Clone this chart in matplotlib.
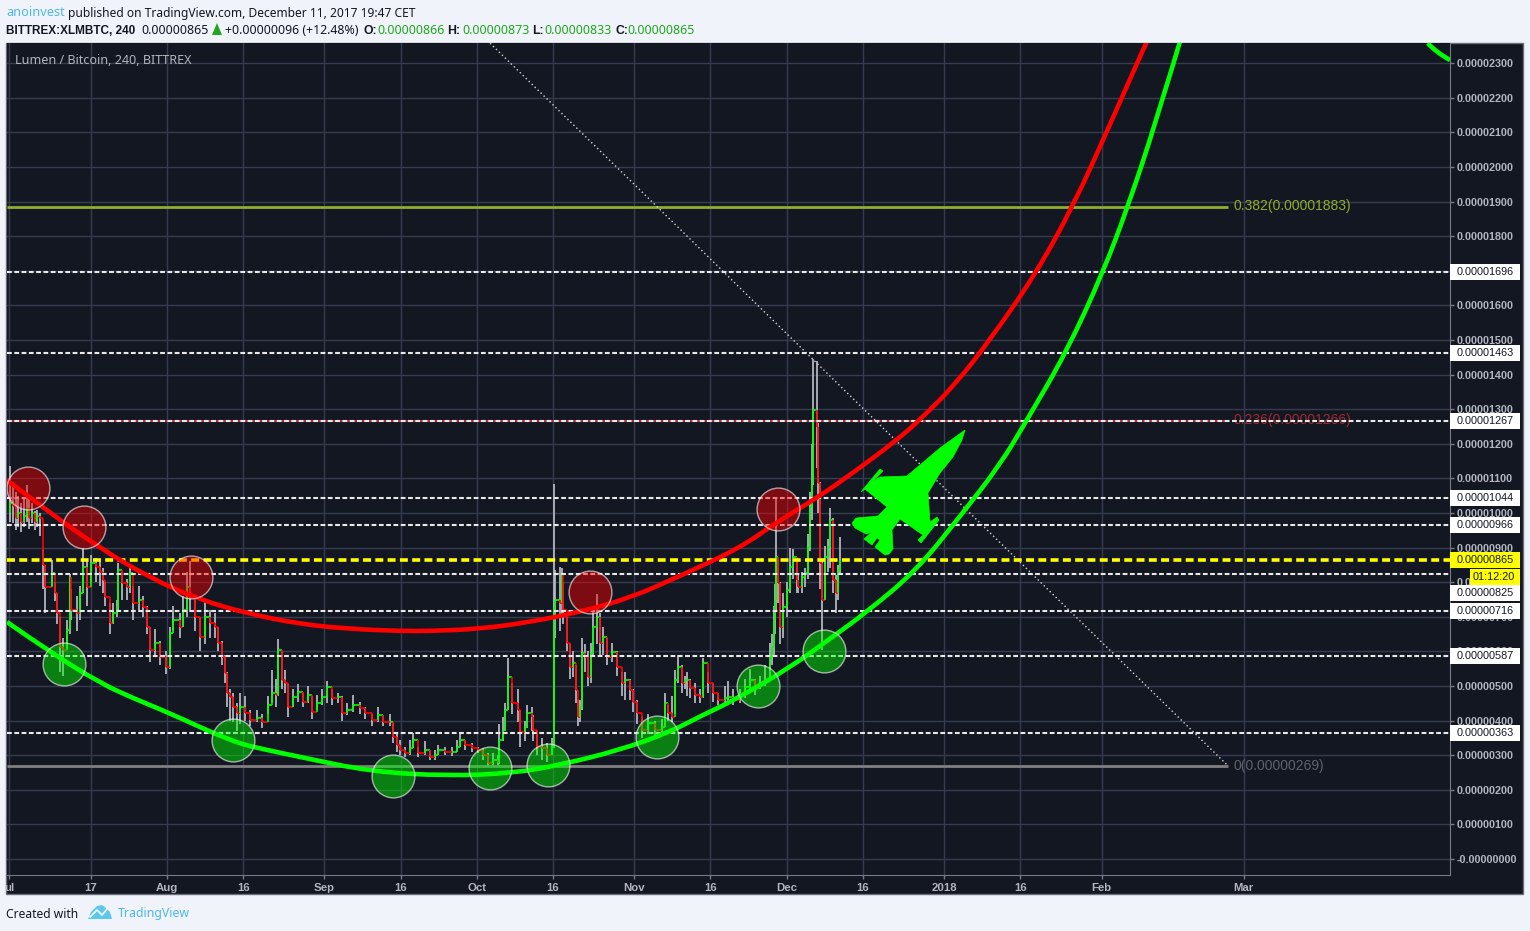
import numpy as np
import matplotlib
matplotlib.use('Agg')
import matplotlib.pyplot as plt
from matplotlib.patches import Polygon, Rectangle, PathPatch
from matplotlib.path import Path

W, H = 1530, 931

# x is days since 1 Jul 2017, prices are in 1e-8 BTC
candle_days = [0.1, 0.6, 1.2, 1.7, 2.3, 2.9, 3.4, 3.9, 4.4, 5.0, 5.5, 6.0, 6.6, 7.0, 8.3, 9.0, 9.3, 9.9, 10.6, 11.3,
               11.9, 12.2, 13.2, 13.9, 14.5, 15.2, 16.1, 17.1, 17.8, 18.5, 18.8, 19.8, 20.4, 21.1, 21.4, 22.1, 23.1, 23.7, 24.4, 25.4,
               26.3, 27.0, 27.7, 28.6, 29.6, 30.9, 31.6, 32.2, 33.6, 34.2, 34.9, 35.5, 36.5, 37.5, 38.5, 39.5, 40.4, 41.0, 41.8, 42.4,
               42.8, 43.4, 44.0, 44.8, 45.4, 46.4, 47.3, 48.7, 49.7, 50.9, 51.7, 52.5, 52.9, 53.6, 54.2, 54.8, 55.8, 56.8, 57.8, 58.8,
               59.5, 60.5, 61.5, 62.5, 63.5, 64.7, 65.4, 66.4, 67.6, 69.0, 70.0, 71.4, 72.5, 73.5, 74.9, 75.5, 76.3, 76.9, 77.9, 78.9,
               79.4, 80.4, 81.8, 82.8, 83.8, 84.4, 85.7, 87.1, 88.1, 88.7, 89.7, 91.0, 92.2, 93.2, 94.2, 95.2, 96.2, 96.4, 97.2, 97.5,
               98.2, 98.9, 100.1, 100.5, 101.5, 101.9, 102.9, 103.1, 103.9, 104.9, 105.9, 106.8, 107.1, 107.4, 108.4, 108.8, 109.0, 109.7, 110.3, 110.9,
               111.5, 111.9, 112.3, 112.7, 113.3, 113.9, 114.5, 114.9, 115.7, 116.2, 116.8, 117.6, 118.6, 119.6, 120.6, 121.2, 122.1, 122.7, 123.5, 124.5,
               125.7, 127.1, 128.4, 129.0, 129.6, 130.4, 131.0, 131.6, 132.4, 133.0, 133.4, 134.0, 135.0, 135.9, 136.5, 137.5, 138.5, 139.5, 140.8, 141.4,
               142.4, 143.8, 144.8, 145.8, 146.7, 147.7, 148.7, 149.7, 150.1, 150.5, 150.7, 150.9, 151.3, 151.7, 152.3, 153.0, 153.6, 154.2, 155.0, 155.2,
               156.0, 156.6, 157.2, 157.6, 158.0, 158.2, 159.0, 159.2, 159.6, 159.9, 160.5, 161.1, 161.5, 162.1, 162.7, 163.1, 163.5]
closes = [1030, 1020, 985, 1000, 975, 990, 1015, 985, 1000, 975, 990, 985, 850, 785, 827, 770, 710, 612, 604, 662,
          815, 720, 711, 769, 844, 786, 855, 844, 830, 806, 757, 682, 711, 728, 835, 798, 786, 827, 740, 749,
          728, 670, 604, 624, 584, 555, 653, 691, 670, 720, 786, 757, 699, 641, 699, 682, 670, 624, 584, 538,
          480, 468, 439, 422, 439, 422, 402, 408, 396, 445, 480, 474, 604, 517, 509, 439, 468, 483, 454, 474,
          425, 451, 468, 497, 465, 468, 422, 431, 445, 436, 422, 402, 416, 396, 396, 353, 329, 315, 306, 321,
          344, 306, 315, 295, 301, 315, 309, 309, 324, 344, 329, 321, 315, 301, 277, 286, 280, 344, 373, 431,
          526, 451, 431, 367, 381, 422, 410, 373, 324, 321, 301, 324, 720, 749, 740, 827, 720, 624, 555, 566,
          488, 410, 439, 595, 584, 526, 595, 670, 699, 624, 641, 584, 598, 555, 509, 517, 488, 454, 422, 373,
          393, 373, 381, 451, 422, 410, 517, 555, 509, 517, 517, 494, 474, 468, 566, 509, 480, 460, 465, 468,
          460, 474, 497, 517, 497, 509, 517, 584, 612, 691, 749, 873, 798, 670, 728, 777, 844, 873, 806, 786,
          815, 827, 902, 1017, 1087, 1298, 1248, 1087, 855, 749, 873, 902, 980, 806, 769, 835, 865]
highs = [1135, 1090, 1060, 1050, 1030, 1040, 1080, 1050, 1030, 1005, 1010, 1000, 895, 850, 865, 800, 770, 700, 640, 690,
         825, 780, 760, 790, 900, 860, 880, 870, 860, 840, 800, 740, 740, 750, 855, 830, 810, 840, 790, 790,
         760, 730, 670, 665, 630, 600, 670, 730, 710, 760, 830, 860, 750, 700, 745, 720, 710, 670, 630, 590,
         540, 490, 480, 450, 480, 470, 430, 430, 420, 470, 545, 520, 635, 600, 545, 505, 490, 505, 480, 500,
         470, 475, 490, 515, 490, 480, 470, 450, 475, 455, 440, 420, 440, 415, 420, 395, 365, 345, 325, 345,
         365, 325, 340, 315, 315, 330, 325, 325, 345, 365, 345, 335, 325, 320, 305, 305, 300, 390, 410, 450,
         580, 510, 490, 430, 400, 445, 440, 415, 370, 350, 335, 350, 1084, 835, 845, 840, 800, 700, 620, 600,
         560, 460, 460, 640, 620, 600, 625, 720, 765, 710, 670, 640, 625, 600, 540, 540, 520, 490, 460, 410,
         420, 400, 405, 480, 445, 470, 545, 590, 560, 530, 540, 520, 510, 490, 580, 540, 510, 480, 500, 515,
         490, 490, 520, 550, 520, 530, 560, 625, 650, 730, 795, 1040, 870, 800, 770, 800, 900, 895, 870, 820,
         830, 840, 940, 1060, 1200, 1445, 1440, 1260, 1090, 860, 905, 925, 1015, 985, 820, 850, 930]
lows = [975, 970, 950, 960, 945, 960, 975, 955, 970, 950, 960, 935, 780, 710, 790, 745, 680, 540, 530, 610,
        650, 690, 660, 690, 770, 730, 800, 800, 790, 770, 730, 650, 680, 700, 720, 750, 750, 770, 690, 720,
        700, 650, 570, 590, 560, 535, 550, 660, 640, 670, 700, 720, 660, 600, 620, 640, 640, 600, 560, 510,
        440, 400, 395, 370, 390, 400, 385, 395, 380, 420, 450, 440, 470, 490, 480, 410, 440, 455, 440, 450,
        405, 430, 445, 450, 445, 450, 400, 415, 425, 420, 405, 385, 395, 385, 385, 335, 310, 300, 295, 300,
        320, 295, 300, 285, 285, 300, 300, 298, 310, 325, 315, 310, 305, 285, 265, 270, 270, 275, 340, 370,
        430, 420, 395, 325, 340, 380, 370, 340, 300, 285, 280, 300, 320, 640, 660, 700, 680, 600, 520, 525,
        450, 385, 395, 430, 540, 500, 510, 590, 620, 590, 590, 560, 570, 530, 470, 460, 460, 425, 390, 350,
        360, 350, 360, 385, 400, 395, 420, 510, 480, 490, 470, 465, 450, 450, 465, 480, 455, 445, 445, 450,
        445, 450, 465, 490, 475, 490, 500, 520, 560, 590, 650, 720, 740, 620, 640, 700, 770, 810, 770, 770,
        770, 785, 810, 890, 980, 1080, 1130, 1000, 780, 604, 750, 830, 840, 770, 710, 750, 820]

red_curve_days = [-0.5, 8.0, 17.8, 27.7, 37.5, 47.3, 57.2, 67.0, 76.9, 82.8, 92.6, 102.5, 112.3, 122.1, 132.0, 143.8, 151.1, 158.9, 166.8, 174.7, 179.2, 186.1, 193.0, 201.9, 209.4, 216.6, 223.1, 224.5]
red_curve_prices = [1095, 1000, 899, 812, 749, 708, 679, 665, 659, 659, 665, 685, 714, 754, 818, 899, 974, 1043, 1124, 1211, 1269, 1370, 1500, 1688, 1887, 2121, 2338, 2381]
green_curve_days = [-0.5, 8.0, 17.8, 24.3, 31.0, 44.0, 50.7, 57.2, 71.0, 86.1, 99.1, 108.4, 120.2, 130.0, 135.9, 142.8, 153.6, 160.9, 168.8, 178.6, 187.1, 195.0, 200.3, 208.0, 215.3, 220.2, 225.5, 231.4]
green_curve_prices = [685, 598, 509, 465, 425, 338, 315, 295, 253, 240, 248, 272, 315, 367, 412, 460, 553, 630, 714, 835, 990, 1139, 1269, 1463, 1696, 1887, 2121, 2410]
next_curve_days = [279.2, 280.8, 283.6]
next_curve_prices = [2358, 2332, 2309]

red_circle_days = [3.6, 14.7, 35.7, 114.3, 151.3]
red_circle_prices = [1072, 959, 815, 772, 1011]
green_circle_days = [10.7, 44.0, 75.5, 94.6, 106.0, 127.5, 147.4, 160.3]
green_circle_prices = [564, 344, 240, 263, 272, 353, 500, 601]

level_prices = [1696, 1463, 1267, 1044, 966, 825, 716, 587, 363]
last_price = 865
fib_382 = 1883
fib_236 = 1266
fib_0 = 269
fib_end_day = 239.9
trend_days = [94.6, 239.9]
trend_prices = [2358, 269]

xtick_days = [0, 16, 31, 46, 62, 77, 92, 107, 123, 138, 153, 168, 184, 199, 215, 243]
xtick_labels = ['ul', '17', 'Aug', '16', 'Sep', '16', 'Oct', '16', 'Nov', '16', 'Dec', '16', '2018', '16', 'Feb', 'Mar']
ytick_prices = [0, 100, 200, 300, 400, 500, 600, 700, 800, 900, 1000, 1100, 1200, 1300, 1400, 1500, 1600, 1700, 1800, 1900, 2000, 2100, 2200, 2300]

# outline of the jet and the logo, in screen pixels
jet_outline = [(965, 430), (962, 440), (953, 457), (940, 473), (928, 493), (930, 522), (937, 517), (939, 520), (921, 543), (918, 540),
               (923, 535), (900, 519), (892, 530), (893, 549), (889, 554), (885, 555), (875, 547), (880, 540), (877, 538), (872, 545),
               (864, 539), (872, 532), (866, 534), (855, 528), (852, 523), (856, 518), (878, 516), (887, 507), (865, 489), (861, 492),
               (880, 469), (883, 471), (872, 482), (880, 477), (907, 476), (920, 465), (940, 448)]
logo_outline = [(88, 919), (91, 912), (97, 906), (102, 905), (106, 908), (110, 912), (112, 919)]
logo_zigzag = [(90, 917), (97, 910), (102, 915), (107, 909)]

fig = plt.figure(figsize=(W / 100, H / 100), dpi=100, facecolor='#f0f3fa')

fig.add_artist(Rectangle((6.5 / W, 1 - 894 / H), 1516.5 / W, 851 / H, transform=fig.transFigure,
                         facecolor='#131722', edgecolor='#6b6e78', linewidth=1, zorder=-1))

ax = fig.add_axes([7 / W, 1 - 875 / H, 1443 / W, 832 / H], facecolor='#131722')
ax.set_xlim(-0.49, 283.58)
ax.set_ylim(-46.2, 2358.4)

ax.set_xticks(xtick_days)
ax.set_xticklabels(xtick_labels)
ax.set_yticks(ytick_prices)
ax.set_yticklabels(['-0.00000000'] + ['%.8f' % (p * 1e-8) for p in ytick_prices[1:]])
ax.yaxis.tick_right()
ax.tick_params(axis='both', colors='#787b86', length=3, width=1, pad=2)
ax.tick_params(axis='x', pad=3)
for lab in ax.get_yticklabels():
    lab.set_color('#b2b5be')
    lab.set_family('Liberation Sans')
    lab.set_weight('bold')
    lab.set_size(7.8)
for lab in ax.get_xticklabels():
    lab.set_color('#b2b5be')
    lab.set_family('Liberation Sans')
    lab.set_weight('bold')
    lab.set_size(8.2)
ax.grid(True, color='#363c4e', linewidth=1)
ax.set_axisbelow(True)
for side in ['top', 'left']:
    ax.spines[side].set_visible(False)
for side in ['right', 'bottom']:
    ax.spines[side].set_color('#787b86')

days = np.array(candle_days)
c = np.array(closes)
o = np.concatenate(([1000], c[:-1]))
up = c >= o
ax.vlines(days, lows, highs, color='#b2b5be', linewidth=1.3, zorder=3)
ax.hlines(o[1:], days[:-1], days[1:], color=np.where(up[:-1], '#00ff00', '#ff0000'), linewidth=1.2, zorder=3.1)
ax.vlines(days, o, c, color=np.where(up, '#00ff00', '#ff0000'), linewidth=1.2, zorder=3.2)

ax.hlines(fib_382, -0.49, fib_end_day, color='#8fae2c', linewidth=2, zorder=4)
ax.hlines(fib_236, -0.49, fib_end_day, color='#a8303a', linewidth=1.5, zorder=4)
ax.hlines(fib_0, -0.49, fib_end_day, color='#808080', linewidth=2, zorder=4)
ax.plot(trend_days, trend_prices, color='#d8d8d8', linewidth=1, linestyle=(0, (1, 2)), zorder=4)
for p in level_prices:
    ax.axhline(p, color='#e8e8e8', linewidth=1.5, linestyle=(0, (2.3, 1.2)), zorder=4.1)
ax.axhline(last_price, color='#ffff00', linewidth=2.6, linestyle=(0, (2.2, 1.2)), zorder=4.2)


def smooth_curve(xs, ys, color):
    # quadratic bezier through the midpoints, the read points are the controls
    pts = list(zip(xs, ys))
    verts = [pts[0]]
    codes = [Path.MOVETO]
    for i in range(1, len(pts) - 1):
        end = pts[i + 1] if i == len(pts) - 2 else ((pts[i][0] + pts[i + 1][0]) / 2, (pts[i][1] + pts[i + 1][1]) / 2)
        verts += [pts[i], end]
        codes += [Path.CURVE3, Path.CURVE3]
    ax.add_patch(PathPatch(Path(verts, codes), facecolor='none', edgecolor=color, linewidth=3.3, zorder=5))


smooth_curve(red_curve_days, red_curve_prices, '#ff0000')
smooth_curve(green_curve_days, green_curve_prices, '#00ff00')
smooth_curve(next_curve_days, next_curve_prices, '#00ff00')

ax.scatter(red_circle_days, red_circle_prices, s=950, facecolor=(1, 0, 0, 0.45), edgecolor=(1, 1, 1, 0.6), linewidth=1, zorder=6)
ax.scatter(green_circle_days, green_circle_prices, s=950, facecolor=(0, 1, 0, 0.45), edgecolor=(1, 1, 1, 0.6), linewidth=1, zorder=6)

ax.text(fib_end_day + 1, fib_382 + 3, '0.382(0.00001883)', color='#8fae2c', fontsize=10, family='Liberation Sans', va='center', zorder=7)
ax.text(fib_end_day + 1, fib_236 + 3, '0.236(0.00001266)', color='#9c2a30', fontsize=10, family='Liberation Sans', va='center', zorder=3.5)
ax.text(fib_end_day + 1, fib_0, '0(0.00000269)', color='#5f626b', fontsize=10, family='Liberation Sans', va='center', zorder=7)


def price_box(price, text, face='white', x0=1.0, width=70 / 1443, text_x=7 / 1443):
    ax.add_patch(Rectangle((x0, price - 23), width, 46, transform=ax.get_yaxis_transform(),
                           facecolor=face, edgecolor='none', clip_on=False, zorder=10))
    ax.text(x0 + text_x, price, text, transform=ax.get_yaxis_transform(),
            color='#131722', fontsize=7.8, family='Liberation Sans', va='center', ha='left', clip_on=False, zorder=11)


# the 825 label gets pushed below the countdown box
label_prices = [1696, 1463, 1267, 1044, 966, 769, 716, 587, 363]
for p, lp in zip(level_prices, label_prices):
    price_box(lp, '%.8f' % (p * 1e-8))
price_box(last_price, '%.8f' % (last_price * 1e-8), face='#ffff00')
price_box(815, '01:12:20', face='#ffff00', x0=1 + 20 / 1443, width=50 / 1443, text_x=3 / 1443)


def px_text(x, y, s, color='#131722', size=9.0, weight='normal'):
    if weight == 'bold':
        fig.text(x / W, 1 - y / H, s, color=color, fontsize=size, weight='bold', family='Liberation Sans', va='center', ha='left')
    else:
        fig.text(x / W, 1 - y / H, s, color=color, fontsize=size, family='Noto Sans', va='center', ha='left')


fig.add_artist(Polygon([(x / W, 1 - y / H) for x, y in jet_outline], transform=fig.transFigure, facecolor='#00ff00', edgecolor='#00ff00', linewidth=0.5, zorder=8))

px_text(15, 60, 'Lumen / Bitcoin, 240, BITTREX', color='#b2b5be', size=9.05)

px_text(6, 13, 'anoinvest', color='#4db8e8', size=9.2)
px_text(68, 13, 'published on TradingView.com, December 11, 2017 19:47 CET', size=8.65)
px_text(6, 31, 'BITTREX:XLMBTC, 240', weight='bold', size=8.5)
px_text(141, 31, '0.00000865')
fig.add_artist(Polygon([(212 / W, 1 - 35 / H), (222 / W, 1 - 35 / H), (217 / W, 1 - 23 / H)], transform=fig.transFigure, facecolor='#1fa81f', edgecolor='none'))
px_text(225, 31, '+0.00000096 (+12.48%)', size=8.85)
for x, s in [(363, 'O:'), (447, 'H:'), (532, 'L:'), (615, 'C:')]:
    px_text(x, 31, s, weight='bold', size=8.8)
for x, s in [(377, '0.00000866'), (462, '0.00000873'), (544, '0.00000833'), (627, '0.00000865')]:
    px_text(x, 31, s, color='#1fa81f')

px_text(6, 914, 'Created with', size=8.7)
px_text(118, 914, 'TradingView', color='#4db8e8', size=8.85)
fig.add_artist(Polygon([(x / W, 1 - y / H) for x, y in logo_outline], transform=fig.transFigure, facecolor='#5bc8ec', edgecolor='none'))
fig.add_artist(plt.Line2D([x / W for x, y in logo_zigzag], [1 - y / H for x, y in logo_zigzag], transform=fig.transFigure, color='white', linewidth=1.2))

fig.savefig('out.png', dpi=100, facecolor=fig.get_facecolor())
